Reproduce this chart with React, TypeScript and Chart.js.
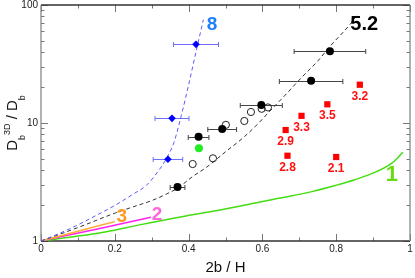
import React, { useEffect, useRef } from "react";
import { Chart, registerables } from "chart.js";

Chart.register(...registerables);

const FONT = '"Liberation Sans", Arial, Helvetica, sans-serif';

// Axis ticks
const xMajorTicks = [0, 0.2, 0.4, 0.6, 0.8, 1];
const xMinorTicks = [0.1, 0.3, 0.5, 0.7, 0.9];
const yMajorTicks = [1, 10, 100];
const yMinorTicks = [2, 3, 4, 5, 6, 7, 8, 9, 20, 30, 40, 50, 60, 70, 80, 90];

// Model curves
const curve1X = [0, 0.1, 0.177, 0.267, 0.393, 0.482, 0.644, 0.734, 0.797, 0.85, 0.896, 0.95, 0.981];
const curve1Y = [1, 1.1, 1.2, 1.37, 1.63, 1.82, 2.3, 2.62, 2.95, 3.3, 3.72, 4.55, 5.65];
const curve2X = [0, 0.15, 0.298];
const curve2Y = [1, 1.26, 1.59];
const curve3X = [0, 0.1, 0.2];
const curve3Y = [1, 1.21, 1.46];
const curve52X = [0, 0.1, 0.2, 0.25, 0.3, 0.34, 0.37, 0.41, 0.45, 0.5, 0.55, 0.59, 0.62, 0.66, 0.71, 0.75, 0.78, 0.84, 0.86];
const curve52Y = [1, 1.3, 1.72, 1.95, 2.2, 2.5, 2.8, 3.5, 4.25, 5.7, 7.6, 10, 12.6, 17, 25, 33.5, 43.5, 70, 85];
const curve8X = [0, 0.05, 0.1, 0.15, 0.2, 0.25, 0.285, 0.32, 0.34, 0.36, 0.38, 0.4, 0.42, 0.44];
const curve8Y = [1, 1.16, 1.37, 1.65, 2.0, 2.5, 2.95, 4.0, 5.0, 6.8, 11.5, 21, 40, 75];

// Measurements
const filledX = [0.37, 0.427, 0.491, 0.597, 0.732, 0.783];
const filledY = [2.87, 7.65, 8.9, 14.2, 22.8, 40.5];
const filledXErr = [0.02, 0.028, 0.039, 0.057, 0.086, 0.097];
const openX = [0.411, 0.466, 0.501, 0.551, 0.569, 0.598, 0.615];
const openY = [4.49, 5.02, 9.65, 10.4, 12.4, 13.2, 13.55];
const greenX = [0.428];
const greenY = [6.12];
const blueX = [0.344, 0.355, 0.42];
const blueY = [4.93, 10.95, 46.4];
const blueXErr = [0.04, 0.046, 0.061];
const redX = [0.864, 0.776, 0.706, 0.663, 0.668, 0.8];
const redY = [21.1, 14.4, 11.5, 8.72, 5.28, 5.15];
const redLabels = ["3.2", "3.5", "3.3", "2.9", "2.8", "2.1"];

// Curve labels
const curveLabelText = ["1", "2", "3", "5.2", "8"];
const curveLabelX = [0.951, 0.3146, 0.219, 0.876, 0.4636];
const curveLabelY = [3.63, 1.67, 1.61, 67.8, 67.8];
const curveLabelColor = ["#66dd11", "#ff66dd", "#ff9922", "#000000", "#1f80ff"];
const curveLabelSize = [22, 19, 19, 20, 19];

const pts = (xs: number[], ys: number[]) => xs.map((x, i) => ({ x, y: ys[i] }));

const axesPlugin = {
  id: "axesDecor",
  beforeDatasetsDraw(chart: any) {
    const { ctx, chartArea } = chart;
    const { left, right, top, bottom } = chartArea;
    const xs = chart.scales.x;
    const ys = chart.scales.y;
    ctx.save();
    ctx.lineWidth = 1;
    ctx.strokeStyle = "#777";
    const xt = [...xMajorTicks.map((v) => [v, 7]), ...xMinorTicks.map((v) => [v, 3.5])];
    xt.forEach(([v, len]) => {
      const px = Math.round(xs.getPixelForValue(v)) + 0.5;
      ctx.beginPath();
      ctx.moveTo(px, bottom);
      ctx.lineTo(px, bottom - len);
      ctx.moveTo(px, top);
      ctx.lineTo(px, top + len);
      ctx.stroke();
    });
    const yt = [...yMajorTicks.map((v) => [v, 7]), ...yMinorTicks.map((v) => [v, 3.5])];
    yt.forEach(([v, len]) => {
      const py = Math.round(ys.getPixelForValue(v)) + 0.5;
      ctx.beginPath();
      ctx.moveTo(left, py);
      ctx.lineTo(left + len, py);
      ctx.moveTo(right, py);
      ctx.lineTo(right - len, py);
      ctx.stroke();
    });
    // frame
    ctx.lineWidth = 1.3;
    ctx.strokeStyle = "#333";
    ctx.beginPath();
    ctx.moveTo(left, top);
    ctx.lineTo(right, top);
    ctx.moveTo(left, bottom);
    ctx.lineTo(right, bottom);
    ctx.stroke();
    ctx.strokeStyle = "#888";
    ctx.beginPath();
    ctx.moveTo(left, top);
    ctx.lineTo(left, bottom);
    ctx.moveTo(right, top);
    ctx.lineTo(right, bottom);
    ctx.stroke();

    // error bars
    const drawErr = (xv: number[], yv: number[], ev: number[], color: string) => {
      ctx.strokeStyle = color;
      ctx.lineWidth = 1;
      xv.forEach((x, i) => {
        const py = Math.round(ys.getPixelForValue(yv[i])) + 0.5;
        const x0 = xs.getPixelForValue(x - ev[i]);
        const x1 = xs.getPixelForValue(x + ev[i]);
        ctx.beginPath();
        ctx.moveTo(x0, py);
        ctx.lineTo(x1, py);
        ctx.moveTo(x0, py - 2.5);
        ctx.lineTo(x0, py + 2.5);
        ctx.moveTo(x1, py - 2.5);
        ctx.lineTo(x1, py + 2.5);
        ctx.stroke();
      });
    };
    drawErr(filledX, filledY, filledXErr, "#444");
    drawErr(blueX, blueY, blueXErr, "#6e6eff");
    ctx.restore();
  },
  afterDatasetsDraw(chart: any) {
    const { ctx } = chart;
    const xs = chart.scales.x;
    const ys = chart.scales.y;
    ctx.save();
    ctx.textAlign = "center";
    ctx.textBaseline = "middle";
    ctx.fillStyle = "#ff1010";
    ctx.font = `bold 12px ${FONT}`;
    redLabels.forEach((t, i) => {
      ctx.fillText(t, xs.getPixelForValue(redX[i]), ys.getPixelForValue(redY[i]) + 11.5);
    });
    curveLabelText.forEach((t, i) => {
      ctx.fillStyle = curveLabelColor[i];
      ctx.font = `bold ${curveLabelSize[i]}px ${FONT}`;
      ctx.fillText(t, xs.getPixelForValue(curveLabelX[i]), ys.getPixelForValue(curveLabelY[i]));
    });
    ctx.restore();
  },
  afterDraw(chart: any) {
    const { ctx, chartArea } = chart;
    const cy = (chartArea.top + chartArea.bottom) / 2;
    ctx.save();
    ctx.translate(17, cy);
    ctx.rotate(-Math.PI / 2);
    ctx.fillStyle = "#111";
    ctx.textBaseline = "alphabetic";
    ctx.textAlign = "left";
    const segs: [string, number, number][] = [
      ["D", 15, 0],
      ["b", 9, 8],
      ["3D", 9, -7],
      [" / D", 15, 0],
      ["b", 9, 8],
    ];
    let total = 0;
    segs.forEach(([t, s]) => {
      ctx.font = `${s}px ${FONT}`;
      total += ctx.measureText(t).width;
    });
    let x = -total / 2;
    segs.forEach(([t, s, dy]) => {
      ctx.font = `${s}px ${FONT}`;
      ctx.fillText(t, x, dy);
      x += ctx.measureText(t).width;
    });
    ctx.restore();
  },
};

export default function App() {
  const ref = useRef<HTMLCanvasElement | null>(null);
  useEffect(() => {
    if (!ref.current) return;
    const line = (xs: number[], ys: number[], color: string, dash: number[] = [], width = 1.3) => ({
      type: "line" as const,
      data: pts(xs, ys),
      borderColor: color,
      borderWidth: width,
      borderDash: dash,
      pointRadius: 0,
      fill: false,
      cubicInterpolationMode: "monotone" as const,
    });
    const chart = new Chart(ref.current, {
      type: "scatter",
      data: {
        datasets: [
          { data: pts(redX, redY), pointStyle: "rect", radius: 4.4, backgroundColor: "#ff0000", borderColor: "#ff0000", borderWidth: 0 },
          { data: pts(blueX, blueY), pointStyle: "rectRot", radius: 3.8, backgroundColor: "#0000ff", borderColor: "#0000ff", borderWidth: 0 },
          { data: pts(filledX, filledY), pointStyle: "circle", radius: 4, backgroundColor: "#000", borderColor: "#000", borderWidth: 0 },
          { data: pts(greenX, greenY), pointStyle: "circle", radius: 4, backgroundColor: "#22ee22", borderColor: "#22ee22", borderWidth: 0 },
          { data: pts(openX, openY), pointStyle: "circle", radius: 3.6, backgroundColor: "rgba(255,255,255,0)", borderColor: "#222", borderWidth: 1 },
          line(curve8X, curve8Y, "#5a5aff", [4, 3], 1),
          line(curve52X, curve52Y, "#333", [4, 3], 1),
          line(curve3X, curve3Y, "#ffaa33", [], 1.5),
          line(curve2X, curve2Y, "#ff22ee", [], 1.5),
          line(curve1X, curve1Y, "#44dd11", [], 1.5),
        ] as any,
      },
      options: {
        responsive: false,
        animation: false,
        events: [],
        layout: { padding: { top: 5, right: 3, left: 0, bottom: 0 } },
        plugins: { legend: { display: false }, tooltip: { enabled: false } },
        scales: {
          x: {
            type: "linear",
            min: 0,
            max: 1,
            grid: { display: false, drawTicks: false },
            border: { display: false },
            afterBuildTicks: (s: any) => {
              s.ticks = xMajorTicks.map((v) => ({ value: v }));
            },
            ticks: {
              padding: 2,
              color: "#222",
              font: { family: FONT, size: 10 },
              maxRotation: 0,
              callback: (v: any) => (v === 0 || v === 1 ? String(v) : Number(v).toFixed(1)),
            },
            title: { display: true, text: "2b / H", color: "#111", font: { family: FONT, size: 15 }, padding: { top: 0, bottom: 1 } },
            afterFit: (s: any) => {
              s.height = 37;
              s.paddingLeft = 0;
              s.paddingRight = 0;
            },
          },
          y: {
            type: "logarithmic",
            min: 1,
            max: 100,
            grid: { display: false, drawTicks: false },
            border: { display: false },
            afterBuildTicks: (s: any) => {
              s.ticks = yMajorTicks.map((v) => ({ value: v }));
            },
            ticks: {
              padding: 3,
              color: "#222",
              font: { family: FONT, size: 10 },
              callback: (v: any) => String(v),
            },
            afterFit: (s: any) => {
              s.width = 41;
              s.paddingTop = 0;
              s.paddingBottom = 0;
            },
          },
        },
      } as any,
      plugins: [axesPlugin],
    });
    return () => chart.destroy();
  }, []);
  return (
    <div style={{ position: "absolute", left: 0, top: 0, width: 415, height: 278, background: "#fff" }}>
      <canvas ref={ref} width={415} height={278} style={{ display: "block" }} />
    </div>
  );
}
